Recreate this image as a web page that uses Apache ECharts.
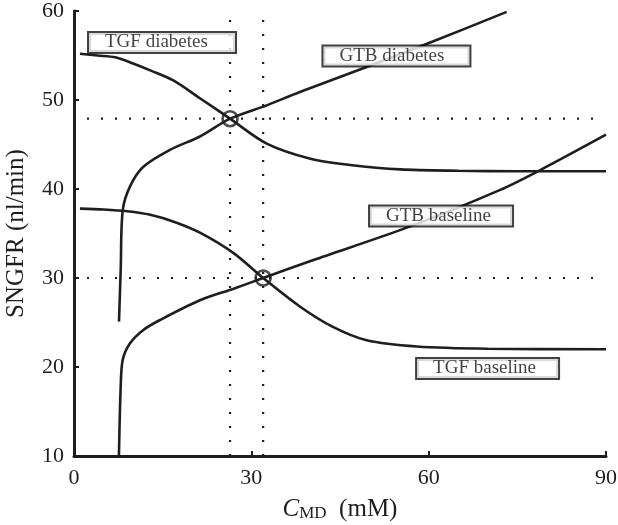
<!DOCTYPE html>
<html>
<head>
<meta charset="utf-8">
<script src="https://cdn.jsdelivr.net/npm/echarts@6/dist/echarts.min.js"></script>
<style>html,body{margin:0;padding:0;background:#fff}#c{width:618px;height:525px}</style>
</head>
<body>
<div id="c"></div>
<script>
// Data
var tgfDiabetesX = [1, 4, 7, 10, 13, 16.8, 21.3, 26.4, 32.6, 40, 46.7, 55.2, 65, 75, 90];
var tgfDiabetesY = [55.2, 55.0, 54.8, 54.1, 53.3, 52.2, 50.2, 47.9, 45.1, 43.4, 42.7, 42.2, 42.05, 42.0, 42.0];

var tgfBaselineX = [1, 5, 9, 12.9, 17, 21.3, 27, 32, 38.2, 43.8, 49.5, 58, 70, 90];
var tgfBaselineY = [37.8, 37.7, 37.5, 37.1, 36.3, 35.1, 32.8, 30.0, 26.8, 24.5, 23.0, 22.3, 22.05, 22.0];

var gtbDiabetesX = [7.61, 7.9, 8.24, 9.48, 11.73, 16.24, 21.3, 26.4, 32.6, 38.2, 49.5, 60.8, 73.2];
var gtbDiabetesY = [25.1, 30.9, 37.6, 40.3, 42.5, 44.4, 45.9, 47.9, 49.4, 50.9, 53.7, 56.6, 59.9];

var gtbBaselineX = [7.6, 7.9, 8.24, 9.48, 11.73, 14.55, 21.3, 27, 32, 40.4, 56.9, 72.1, 78.8, 90];
var gtbBaselineY = [10, 17.8, 20.8, 22.66, 24.16, 25.28, 27.5, 28.8, 30.0, 32.0, 35.8, 39.9, 42.1, 46.1];

var equilibriumX = [26.4, 32];
var equilibriumY = [47.9, 30];

var vRefLines = [26.4, 32];
var hRefLines = [47.9, 30];
var vRefRange = [10, 59.5];
var hRefRange = [2.2, 88.5];

var labelTexts = ['TGF diabetes', 'GTB diabetes', 'GTB baseline', 'TGF baseline'];
var labelX = [2.54, 42.2, 50.08, 58.04];
var labelY = [56.46, 54.94, 36.97, 19.83];

var xTicks = [0, 30, 60, 90];
var yTicks = [10, 20, 30, 40, 50, 60];

// label box content widths (style)
var labelBoxContentWidths = [122, 122, 118, 117];

function zip(xs, ys) { return xs.map(function (x, i) { return [x, ys[i]]; }); }

var FONT = 'Liberation Serif';
var INK = '#1e1e1e';

var curveStyle = { color: INK, width: 2.6 };
function curve(name, xs, ys) {
  return {
    name: name, type: 'line', data: zip(xs, ys), showSymbol: false,
    smooth: 0.3, lineStyle: curveStyle, z: 3, silent: true
  };
}

var series = [];
vRefLines.forEach(function (x) {
  series.push({
    type: 'line', data: [[x, vRefRange[0]], [x, vRefRange[1]]], showSymbol: false, silent: true,
    lineStyle: { color: INK, width: 2.2, type: [2, 12] }, z: 1
  });
});
hRefLines.forEach(function (y) {
  series.push({
    type: 'line', data: [[hRefRange[0], y], [hRefRange[1], y]], showSymbol: false, silent: true,
    lineStyle: { color: INK, width: 2.2, type: [2, 12] }, z: 1
  });
});
series.push(curve('TGF diabetes', tgfDiabetesX, tgfDiabetesY));
series.push(curve('TGF baseline', tgfBaselineX, tgfBaselineY));
series.push(curve('GTB diabetes', gtbDiabetesX, gtbDiabetesY));
series.push(curve('GTB baseline', gtbBaselineX, gtbBaselineY));
series.push({
  type: 'scatter', data: zip(equilibriumX, equilibriumY), symbol: 'circle', symbolSize: 15,
  itemStyle: { color: 'rgba(0,0,0,0)', borderColor: INK, borderWidth: 2.6 }, z: 5, silent: true
});
series.push({
  type: 'scatter', silent: true, z: 6, symbolSize: 0,
  itemStyle: { color: INK },
  data: labelX.map(function (x, i) {
    return { value: [x, labelY[i]], name: labelTexts[i], label: { width: labelBoxContentWidths[i] } };
  }),
  label: {
    show: true, position: 'right', distance: 0, formatter: '{b}',
    fontFamily: FONT, fontSize: 19, color: '#111',
    textBorderWidth: 0, textShadowBlur: 0,
    backgroundColor: '#fff', borderColor: '#111', borderWidth: 2,
    height: 17, lineHeight: 17, align: 'left', verticalAlign: 'middle',
    padding: [1, 8, 1, 16]
  }
});

var chart = echarts.init(document.getElementById('c'));
chart.setOption({
  animation: false,
  backgroundColor: '#fff',
  grid: { left: 74, right: 12, top: 11, bottom: 69, containLabel: false, outerBoundsMode: 'none' },
  xAxis: {
    type: 'value', min: xTicks[0], max: xTicks[xTicks.length - 1], interval: 30,
    axisLine: { show: true, lineStyle: { color: INK, width: 3 } },
    axisTick: { show: true, inside: true, length: 5, lineStyle: { color: INK, width: 2 } },
    splitLine: { show: false },
    axisLabel: { fontFamily: FONT, fontSize: 22, color: INK, margin: 11 },
    name: '{i|C}{s|MD}{n|  (mM)}', nameLocation: 'middle', nameGap: 40,
    nameTextStyle: {
      rich: {
        i: { fontFamily: FONT, fontStyle: 'italic', fontSize: 25, color: INK },
        s: { fontFamily: FONT, fontSize: 17, color: INK, verticalAlign: 'bottom', padding: [9, 0, 0, 0] },
        n: { fontFamily: FONT, fontSize: 25, color: INK }
      }
    }
  },
  yAxis: {
    type: 'value', min: yTicks[0], max: yTicks[yTicks.length - 1], interval: 10,
    axisLine: { show: true, lineStyle: { color: INK, width: 3 } },
    axisTick: { show: true, inside: true, length: 5, lineStyle: { color: INK, width: 2 } },
    splitLine: { show: false },
    axisLabel: { fontFamily: FONT, fontSize: 22, color: INK, margin: 10 },
    name: 'SNGFR (nl/min)', nameLocation: 'middle', nameGap: 45,
    nameTextStyle: { fontFamily: FONT, fontSize: 25, color: INK }
  },
  series: series
});
</script>
</body>
</html>
